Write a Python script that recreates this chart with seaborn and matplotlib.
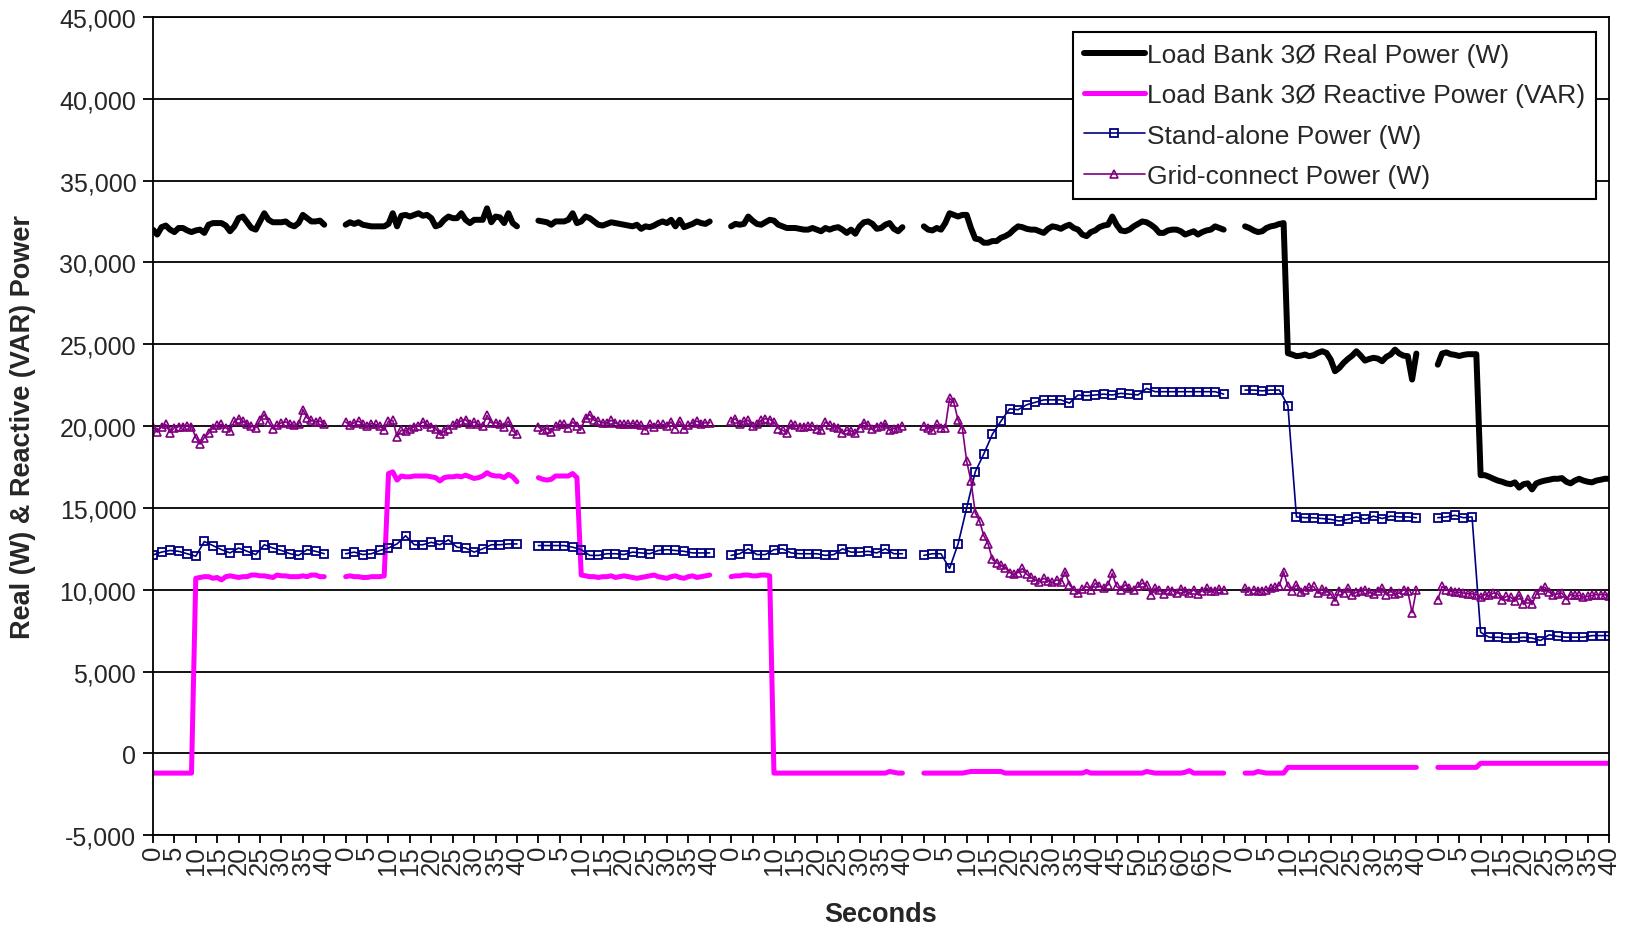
import numpy as np
import pandas as pd
import matplotlib
matplotlib.use("Agg")
import matplotlib.pyplot as plt
from matplotlib.lines import Line2D
from matplotlib.ticker import FuncFormatter
import seaborn as sns

# seven test runs laid end to end on one category axis (one slot per second)
run_seconds = [40, 40, 40, 40, 70, 40, 40]
run_start = [0, 45, 90, 135, 180, 255, 300]

# Load Bank 3-phase real power, kW, one value per second
real_kw = [
    [32.0, 31.7, 32.15, 32.25, 32.0, 31.85, 32.1, 32.1, 31.95, 31.85,
     31.95, 32.0, 31.8, 32.3, 32.4, 32.4, 32.4, 32.25, 31.9, 32.2,
     32.7, 32.8, 32.45, 32.1, 32.0, 32.5, 33.0, 32.6, 32.45, 32.45,
     32.45, 32.5, 32.3, 32.2, 32.4, 32.9, 32.7, 32.5, 32.5, 32.55, 32.3],
    [32.3, 32.45, 32.35, 32.45, 32.3, 32.25, 32.2, 32.2, 32.2, 32.2,
     32.35, 33.0, 32.2, 32.85, 32.9, 32.8, 32.9, 33.0, 32.85, 32.9,
     32.7, 32.2, 32.3, 32.6, 32.8, 32.7, 32.7, 33.0, 32.6, 32.4,
     32.6, 32.6, 32.6, 33.3, 32.45, 32.8, 32.75, 32.4, 33.0, 32.4, 32.2],
    [32.55, 32.5, 32.45, 32.3, 32.5, 32.5, 32.5, 32.6, 33.0, 32.4,
     32.5, 32.8, 32.7, 32.5, 32.3, 32.25, 32.35, 32.45, 32.4, 32.35,
     32.3, 32.25, 32.2, 32.3, 32.05, 32.2, 32.15, 32.25, 32.4, 32.5,
     32.4, 32.6, 32.2, 32.6, 32.15, 32.25, 32.35, 32.5, 32.4, 32.35, 32.5],
    [32.2, 32.35, 32.3, 32.35, 32.8, 32.55, 32.35, 32.3, 32.45, 32.6,
     32.55, 32.3, 32.2, 32.1, 32.1, 32.1, 32.05, 32.0, 32.0, 32.1,
     32.0, 31.9, 32.1, 32.0, 32.1, 32.15, 32.0, 31.8, 32.0, 31.75,
     32.2, 32.45, 32.5, 32.35, 32.05, 32.1, 32.3, 32.4, 32.05, 31.9, 32.15],
    [32.2, 32.0, 31.95, 32.1, 32.0, 32.4, 33.0, 32.9, 32.8, 32.9,
     32.9, 32.1, 31.45, 31.4, 31.2, 31.2, 31.3, 31.3, 31.5, 31.6,
     31.75, 32.0, 32.2, 32.15, 32.05, 32.0, 32.0, 31.9, 31.8, 32.05,
     32.2, 32.15, 32.05, 32.2, 32.3, 32.1, 32.0, 31.7, 31.6, 31.85,
     31.95, 32.15, 32.25, 32.3, 32.8, 32.3, 31.95, 31.9, 32.0, 32.2,
     32.35, 32.5, 32.45, 32.3, 32.1, 31.8, 31.8, 31.95, 32.0, 32.0,
     31.9, 31.7, 31.8, 31.9, 31.7, 31.85, 31.95, 32.0, 32.2, 32.1, 32.0],
    [32.2, 32.1, 31.95, 31.85, 31.9, 32.1, 32.2, 32.25, 32.35, 32.4,
     24.45, 24.37, 24.27, 24.3, 24.37, 24.27, 24.33, 24.47, 24.57, 24.47,
     24.06, 23.35, 23.55, 23.86, 24.1, 24.3, 24.57, 24.3, 24.0, 24.1,
     24.17, 24.12, 23.96, 24.23, 24.37, 24.67, 24.43, 24.3, 24.27, 22.84, 24.43],
    [23.75, 24.43, 24.5, 24.39, 24.35, 24.28, 24.35, 24.39, 24.39, 24.39,
     17.0, 17.0, 16.9, 16.78, 16.67, 16.6, 16.5, 16.45, 16.56, 16.24,
     16.45, 16.5, 16.13, 16.5, 16.6, 16.67, 16.72, 16.78, 16.78, 16.82,
     16.6, 16.5, 16.67, 16.78, 16.67, 16.6, 16.56, 16.67, 16.72, 16.78, 16.78],
]

# Load Bank 3-phase reactive power, kVAR, one value per second
reactive_kvar = [
    [-1.2, -1.2, -1.2, -1.2, -1.2, -1.2, -1.2, -1.2, -1.2, -1.2,
     10.7, 10.75, 10.8, 10.8, 10.7, 10.75, 10.6, 10.8, 10.85, 10.8,
     10.75, 10.8, 10.8, 10.9, 10.9, 10.85, 10.85, 10.8, 10.75, 10.9,
     10.85, 10.85, 10.8, 10.8, 10.8, 10.85, 10.8, 10.9, 10.9, 10.8, 10.8],
    [10.8, 10.85, 10.8, 10.8, 10.75, 10.75, 10.8, 10.8, 10.8, 10.85,
     17.1, 17.2, 16.7, 16.95, 16.9, 16.9, 16.95, 16.95, 16.95, 16.95,
     16.9, 16.85, 16.65, 16.85, 16.9, 16.9, 16.95, 16.9, 17.0, 16.9,
     16.8, 16.85, 16.95, 17.15, 17.0, 16.95, 16.95, 16.85, 17.05, 16.9, 16.6],
    [16.85, 16.75, 16.7, 16.75, 16.95, 16.95, 16.95, 16.95, 17.1, 16.85,
     10.9, 10.85, 10.8, 10.8, 10.75, 10.8, 10.8, 10.85, 10.75, 10.8,
     10.85, 10.8, 10.75, 10.7, 10.75, 10.8, 10.85, 10.9, 10.8, 10.75,
     10.7, 10.8, 10.85, 10.75, 10.7, 10.8, 10.85, 10.75, 10.8, 10.85, 10.9],
    [10.8, 10.85, 10.85, 10.9, 10.9, 10.85, 10.85, 10.9, 10.9, 10.85,
     -1.2, -1.2, -1.2, -1.2, -1.2, -1.2, -1.2, -1.2, -1.2, -1.2,
     -1.2, -1.2, -1.2, -1.2, -1.2, -1.2, -1.2, -1.2, -1.2, -1.2,
     -1.2, -1.2, -1.2, -1.2, -1.2, -1.2, -1.2, -1.1, -1.15, -1.2, -1.2],
    [-1.2, -1.2, -1.2, -1.2, -1.2, -1.2, -1.2, -1.2, -1.2, -1.2,
     -1.15, -1.1, -1.1, -1.1, -1.1, -1.1, -1.1, -1.1, -1.1, -1.2,
     -1.2, -1.2, -1.2, -1.2, -1.2, -1.2, -1.2, -1.2, -1.2, -1.2,
     -1.2, -1.2, -1.2, -1.2, -1.2, -1.2, -1.2, -1.2, -1.1, -1.2,
     -1.2, -1.2, -1.2, -1.2, -1.2, -1.2, -1.2, -1.2, -1.2, -1.2,
     -1.2, -1.2, -1.1, -1.15, -1.2, -1.2, -1.2, -1.2, -1.2, -1.2,
     -1.2, -1.15, -1.05, -1.2, -1.2, -1.2, -1.2, -1.2, -1.2, -1.2, -1.2],
    [-1.2, -1.2, -1.2, -1.1, -1.15, -1.2, -1.2, -1.2, -1.2, -1.2,
     -0.85, -0.85, -0.85, -0.85, -0.85, -0.85, -0.85, -0.85, -0.85, -0.85,
     -0.85, -0.85, -0.85, -0.85, -0.85, -0.85, -0.85, -0.85, -0.85, -0.85,
     -0.85, -0.85, -0.85, -0.85, -0.85, -0.85, -0.85, -0.85, -0.85, -0.85, -0.85],
    [-0.85, -0.85, -0.85, -0.85, -0.85, -0.85, -0.85, -0.85, -0.85, -0.85,
     -0.6, -0.6, -0.6, -0.6, -0.6, -0.6, -0.6, -0.6, -0.6, -0.6,
     -0.6, -0.6, -0.6, -0.6, -0.6, -0.6, -0.6, -0.6, -0.6, -0.6,
     -0.6, -0.6, -0.6, -0.6, -0.6, -0.6, -0.6, -0.6, -0.6, -0.6, -0.6],
]

# Stand-alone inverter power, kW, one value every 2 seconds
standalone_kw = [
    [12.13, 12.3, 12.4, 12.35, 12.2, 12.05, 12.95, 12.7, 12.45, 12.25,
     12.55, 12.35, 12.15, 12.75, 12.55, 12.4, 12.2, 12.1, 12.45, 12.35, 12.2],
    [12.2, 12.3, 12.15, 12.2, 12.4, 12.55, 12.8, 13.3, 12.75, 12.75,
     12.9, 12.75, 13.05, 12.6, 12.55, 12.3, 12.5, 12.75, 12.75, 12.8, 12.8],
    [12.7, 12.7, 12.7, 12.7, 12.6, 12.45, 12.1, 12.1, 12.2, 12.2,
     12.15, 12.3, 12.25, 12.2, 12.4, 12.45, 12.4, 12.35, 12.25, 12.25, 12.25],
    [12.1, 12.2, 12.5, 12.15, 12.15, 12.45, 12.5, 12.25, 12.2, 12.2,
     12.2, 12.1, 12.15, 12.5, 12.3, 12.3, 12.35, 12.25, 12.5, 12.2, 12.2],
    [12.1, 12.2, 12.2, 11.3, 12.8, 15.0, 17.2, 18.3, 19.5, 20.3,
     21.05, 21.0, 21.3, 21.45, 21.6, 21.6, 21.6, 21.4, 21.9, 21.85,
     21.9, 21.95, 21.9, 22.0, 21.95, 21.9, 22.3, 22.1, 22.1, 22.1,
     22.1, 22.1, 22.1, 22.1, 22.1, 21.95],
    [22.2, 22.2, 22.15, 22.2, 22.2, 21.25, 14.45, 14.4, 14.4, 14.35,
     14.3, 14.2, 14.3, 14.45, 14.3, 14.5, 14.35, 14.5, 14.45, 14.45, 14.4],
    [14.4, 14.45, 14.55, 14.4, 14.45, 7.4, 7.1, 7.1, 7.05, 7.05,
     7.1, 7.05, 6.9, 7.25, 7.15, 7.1, 7.1, 7.1, 7.2, 7.2, 7.2],
]

# Grid-connect inverter power, kW, one value per second
gridconnect_kw = [
    [19.96, 19.63, 19.96, 20.1, 19.6, 19.9, 19.96, 19.96, 20.0, 19.96,
     19.3, 18.9, 19.3, 19.55, 19.9, 20.05, 20.1, 19.9, 19.7, 20.3,
     20.45, 20.3, 20.15, 20.0, 19.9, 20.35, 20.7, 20.25, 19.85, 20.05,
     20.2, 20.25, 20.1, 20.05, 20.1, 21.0, 20.5, 20.35, 20.25, 20.3, 20.15],
    [20.25, 20.05, 20.2, 20.3, 20.1, 20.0, 20.15, 20.1, 20.0, 19.75,
     20.3, 20.35, 19.35, 19.75, 19.7, 19.85, 19.95, 20.0, 20.25, 20.1,
     19.95, 19.85, 19.5, 19.7, 19.85, 20.05, 20.2, 20.3, 20.4, 20.1,
     20.25, 20.1, 20.0, 20.65, 20.2, 20.2, 20.15, 19.95, 20.3, 19.7, 19.5],
    [19.96, 19.75, 19.85, 19.65, 20.0, 20.1, 20.1, 19.9, 20.25, 20.0,
     19.85, 20.5, 20.7, 20.35, 20.3, 20.2, 20.2, 20.35, 20.2, 20.1,
     20.1, 20.15, 20.15, 20.1, 20.05, 19.75, 20.1, 19.95, 20.1, 20.1,
     20.0, 20.25, 19.85, 20.3, 19.8, 20.05, 20.2, 20.3, 20.15, 20.2, 20.2],
    [20.3, 20.45, 20.1, 20.3, 20.35, 20.0, 20.1, 20.35, 20.45, 20.4,
     20.25, 19.85, 19.75, 19.6, 20.1, 20.05, 19.95, 19.95, 20.0, 20.0,
     19.85, 19.75, 20.25, 20.05, 19.95, 19.9, 19.55, 19.75, 19.7, 19.55,
     19.9, 20.2, 20.05, 19.8, 19.95, 20.0, 20.15, 19.75, 19.85, 19.9, 20.0],
    [20.0, 19.9, 19.75, 20.1, 19.9, 19.9, 21.7, 21.45, 20.35, 19.85,
     17.85, 16.65, 14.7, 14.2, 13.3, 12.8, 11.85, 11.65, 11.5, 11.35,
     11.05, 10.95, 11.05, 11.3, 10.95, 10.75, 10.6, 10.5, 10.7, 10.55,
     10.45, 10.6, 10.5, 11.1, 10.3, 10.0, 9.8, 10.05, 10.2, 10.0,
     10.4, 10.2, 10.1, 10.3, 11.0, 10.2, 10.0, 10.3, 10.1, 10.0,
     10.2, 10.4, 10.3, 9.7, 10.1, 10.0, 9.75, 10.0, 9.95, 9.8,
     10.05, 9.9, 9.8, 10.0, 9.75, 9.95, 10.1, 9.9, 9.95, 10.05, 10.0],
    [10.1, 9.95, 10.0, 9.9, 9.95, 10.0, 10.1, 10.15, 10.25, 11.1,
     10.2, 9.95, 10.3, 9.85, 10.0, 10.15, 10.2, 9.8, 10.05, 9.9,
     9.75, 9.3, 9.95, 9.8, 10.1, 9.7, 9.85, 9.9, 10.0, 9.85,
     9.75, 9.9, 10.1, 9.7, 9.9, 9.75, 9.8, 10.0, 9.9, 8.6, 10.0],
    [9.4, 10.2, 10.0, 9.9, 9.85, 9.85, 9.8, 9.75, 9.75, 9.7,
     9.55, 9.7, 9.65, 9.8, 9.75, 9.4, 9.6, 9.55, 9.3, 9.7,
     9.1, 9.45, 9.1, 9.75, 10.0, 10.15, 9.85, 9.7, 9.75, 9.8,
     9.4, 9.7, 9.65, 9.65, 9.55, 9.6, 9.65, 9.7, 9.7, 9.7, 9.6],
]


def long_table(runs, step):
    rows = []
    for k, vals in enumerate(runs):
        for j, v in enumerate(vals):
            rows.append((k, run_start[k] + j * step, v * 1000.0))
    return pd.DataFrame(rows, columns=["run", "pos", "power"])


series = [
    ("Load Bank 3Ø Real Power (W)", long_table(real_kw, 1),
     dict(color="#000000", linewidth=4.3)),
    ("Load Bank 3Ø Reactive Power (VAR)", long_table(reactive_kvar, 1),
     dict(color="#FF00FF", linewidth=3.6)),
    ("Stand-alone Power (W)", long_table(standalone_kw, 2),
     dict(color="#000080", linewidth=1.2, marker="s", markersize=6,
          markerfacecolor="none", markeredgecolor="#000080", markeredgewidth=1.3)),
    ("Grid-connect Power (W)", long_table(gridconnect_kw, 1),
     dict(color="#800080", linewidth=1.2, marker="^", markersize=6,
          markerfacecolor="none", markeredgecolor="#800080", markeredgewidth=1.2)),
]

sns.set_style("white")
plt.rcParams["font.family"] = ["Liberation Sans", "DejaVu Sans"]

fig = plt.figure(figsize=(16.27, 9.28), dpi=100)
ax = fig.add_axes([0.094, 0.0988, 0.895, 0.882])

handles = []
for name, df, style in series:
    sns.lineplot(data=df, x="pos", y="power", units="run", estimator=None,
                 sort=False, legend=False, ax=ax,
                 solid_joinstyle="round", solid_capstyle="round", **style)
    handles.append(Line2D([], [], label=name, **style))

# category ticks every 5 seconds inside each run
tick_pos, tick_lab = [], []
for start, length in zip(run_start, run_seconds):
    for s in range(0, length + 1, 5):
        tick_pos.append(start + s)
        tick_lab.append(str(s))

ax.set_xlim(0, 340)
ax.set_ylim(-5000, 45000)
ax.set_xticks(tick_pos)
ax.set_xticklabels(tick_lab, rotation=90, fontsize=18.5)
ax.set_yticks(np.arange(-5000, 45001, 5000))
ax.yaxis.set_major_formatter(FuncFormatter(lambda v, p: f"{v:,.0f}"))
ax.tick_params(axis="y", labelsize=18, length=7, width=1.3, direction="out",
               color="black", pad=5, left=True)
ax.tick_params(axis="x", length=6, width=1.3, direction="out",
               color="black", pad=1, bottom=True)

ax.yaxis.grid(True, color="black", linewidth=1.3)
ax.xaxis.grid(False)
ax.set_axisbelow(True)
for sp in ax.spines.values():
    sp.set_visible(True)
    sp.set_color("black")
    sp.set_linewidth(1.3)

ax.set_xlabel("Seconds", fontsize=19.5, fontweight="bold")
ax.set_ylabel("Real (W) & Reactive (VAR) Power", fontsize=19.5, fontweight="bold")
ax.xaxis.set_label_coords(0.5, -0.080)
ax.yaxis.set_label_coords(-0.080, 0.5)

leg = ax.legend(handles=handles, loc="upper right", bbox_to_anchor=(0.991, 0.981),
                borderaxespad=0, fontsize=19, frameon=True, fancybox=False,
                edgecolor="black", framealpha=1, handlelength=2.3,
                handletextpad=0.1, labelspacing=0.62, borderpad=0.4)
leg.get_frame().set_linewidth(1.5)

fig.savefig("out.png", dpi=100)
